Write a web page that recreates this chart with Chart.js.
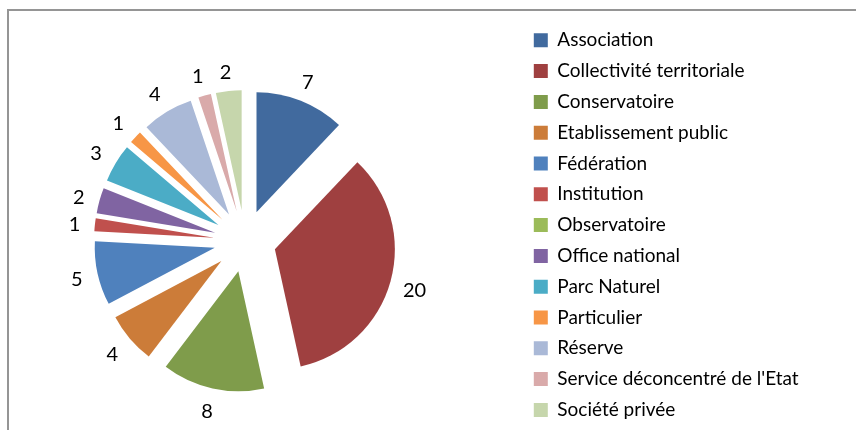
<!DOCTYPE html>
<html>
<head>
<meta charset="utf-8">
<script src="https://cdn.jsdelivr.net/npm/chart.js@4.4.0/dist/chart.umd.min.js"></script>
<style>
html, body { margin: 0; padding: 0; width: 856px; height: 430px; overflow: hidden; background: #fff; }
#frame { position: absolute; left: 7px; top: 9px; width: 900px; height: 500px; border-top: 2px solid #959595; border-left: 2px solid #959595; }
#wrap { position: absolute; left: -32px; top: 19px; width: 888px; height: 444px; }
</style>
</head>
<body>
<div id="frame"></div>
<div id="wrap"><canvas id="Chart1" width="888" height="444"></canvas></div>
<script>
var categories = ['Association', 'Collectivité territoriale', 'Conservatoire', 'Etablissement public', 'Fédération', 'Institution', 'Observatoire', 'Office national', 'Parc Naturel', 'Particulier', 'Réserve', "Service déconcentré de l'Etat", 'Société privée'];
var counts = [7, 20, 8, 4, 5, 1, 0, 2, 3, 1, 4, 1, 2];
var colours = ['#416a9e', '#9f4040', '#7f9c4b', '#cc7c39', '#4f81bd', '#c0504d', '#9bbb59', '#8064a2', '#4bacc6', '#f79646', '#aab9d7', '#d9aaaa', '#c6d6ac'];

// distance every slice is pulled out of the centre
var explode = 31;

// draw each arc shifted along its own bisector (like an exploded Excel pie)
var explodePlugin = {
    id: 'explode',
    beforeDatasetDraw: function (chart, args) {
        var ctx = chart.ctx;
        args.meta.data.forEach(function (arc) {
            var mid = (arc.startAngle + arc.endAngle) / 2;
            ctx.save();
            ctx.translate(Math.cos(mid) * explode, Math.sin(mid) * explode);
            arc.draw(ctx);
            ctx.restore();
        });
        return false;
    }
};

// value labels just outside each slice
var labelPlugin = {
    id: 'sliceLabels',
    afterDatasetsDraw: function (chart) {
        var ctx = chart.ctx;
        var meta = chart.getDatasetMeta(0);
        ctx.save();
        ctx.font = '20px Lato';
        ctx.fillStyle = '#000';
        ctx.textAlign = 'center';
        ctx.textBaseline = 'middle';
        meta.data.forEach(function (arc, i) {
            if (!counts[i]) return;
            var mid = (arc.startAngle + arc.endAngle) / 2;
            var text = String(counts[i]);
            var w = ctx.measureText(text).width;
            var c = Math.cos(mid), s = Math.sin(mid);
            var dist = arc.outerRadius + explode + 13 + Math.abs(c) * w / 2 + Math.abs(s) * 7;
            ctx.fillText(text, arc.x + c * dist - 1, arc.y + s * dist + 2);
        });
        ctx.restore();
    }
};

var ctx1 = document.getElementById('Chart1').getContext('2d');

// legend width as Chart.js computes it, so its left edge lands at x = 554 on the canvas
var legendFont = 19, legendPad = 11.8, legendBox = 14;
ctx1.font = legendFont + 'px Lato';
var widest = Math.max.apply(null, categories.map(function (t) { return ctx1.measureText(t).width; }));
var legendWidth = legendPad + legendBox + legendFont / 2 + widest + 10;
var padRight = Math.max(888 - 554 - legendWidth, 0);

var chart1 = new Chart(ctx1, {
    type: 'pie',
    data: {
        labels: categories,
        datasets: [{
            data: counts,
            backgroundColor: colours,
            borderWidth: 0
        }]
    },
    options: {
        responsive: false,
        animation: false,
        devicePixelRatio: 1,
        events: [],
        radius: 120,
        layout: { padding: { right: padRight } },
        plugins: {
            tooltip: { enabled: false },
            legend: {
                position: 'right',
                align: 'start',
                labels: {
                    boxWidth: legendBox,
                    boxHeight: 14,
                    padding: legendPad,
                    color: '#000',
                    font: { family: 'Lato', size: legendFont }
                }
            }
        }
    },
    plugins: [explodePlugin, labelPlugin]
});
</script>
</body>
</html>
